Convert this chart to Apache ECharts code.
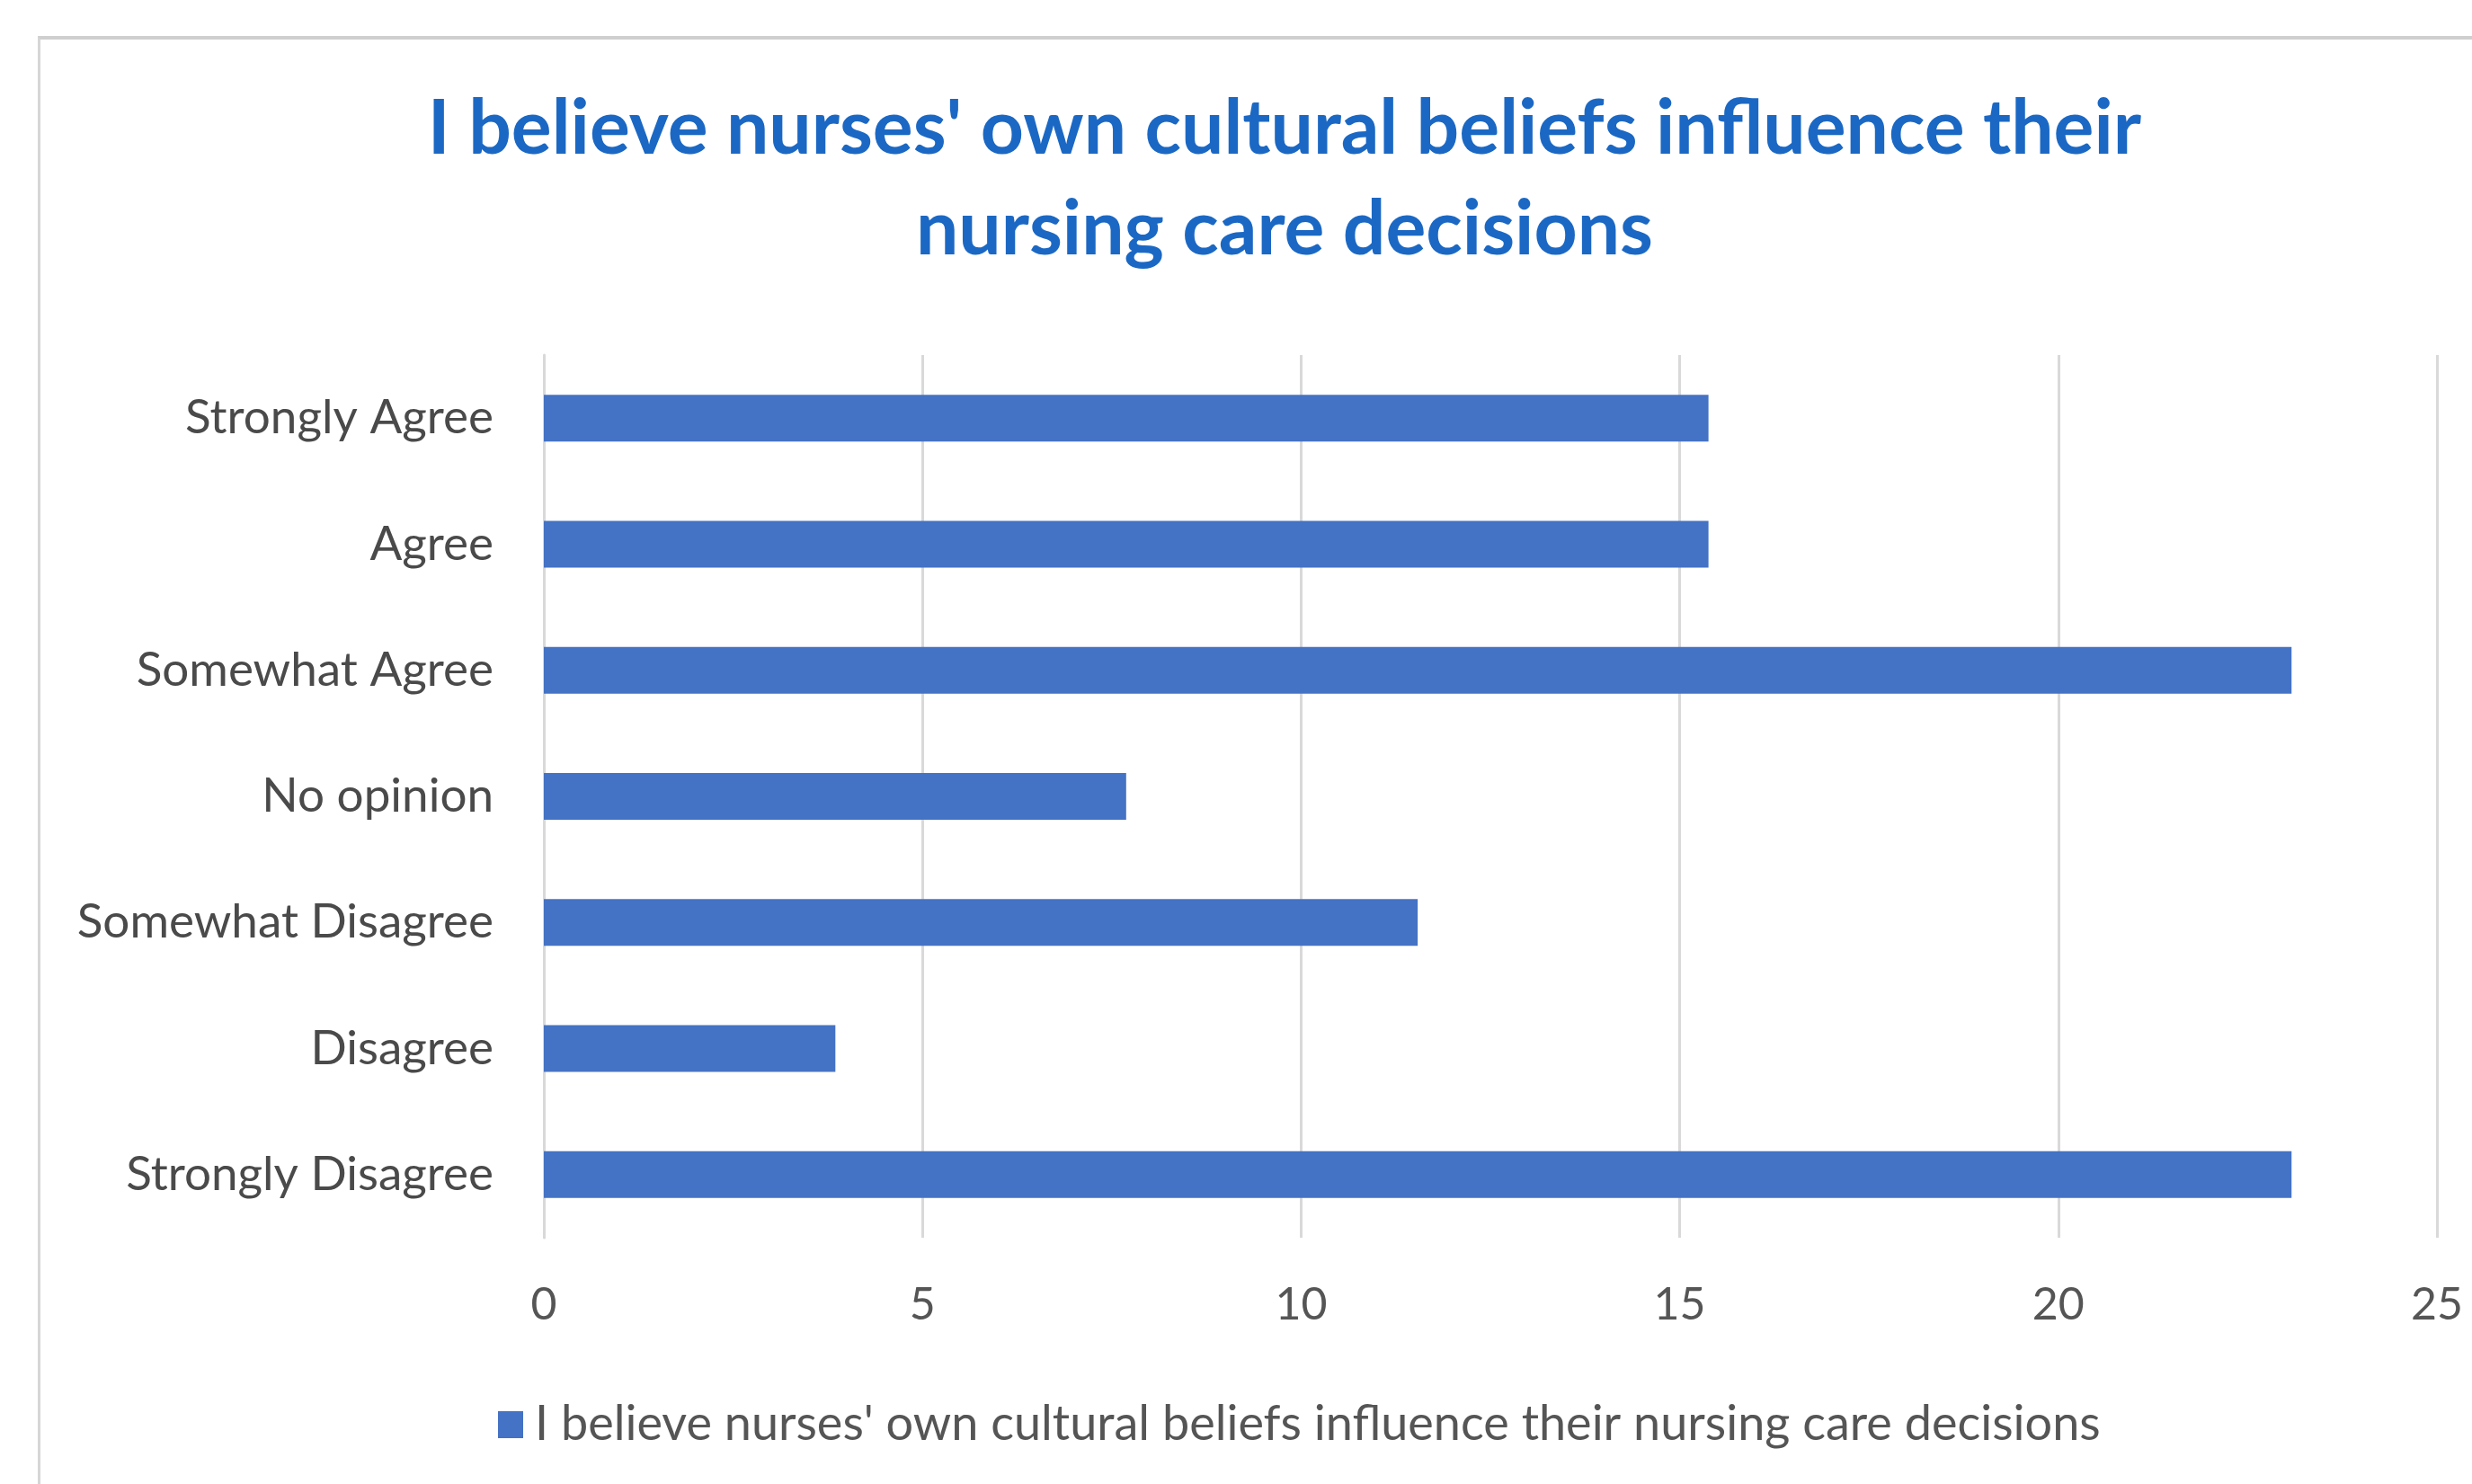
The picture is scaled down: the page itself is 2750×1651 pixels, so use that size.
<!DOCTYPE html>
<html>
<head>
<meta charset="utf-8">
<title>Nurses' cultural beliefs survey</title>
<script src="https://cdn.jsdelivr.net/npm/echarts@6/dist/echarts.min.js"></script>
<style>
  html, body { margin: 0; padding: 0; background: #ffffff; }
  #chart { position: absolute; left: 0; top: 0; width: 2750px; height: 1651px; }
  #frame {
    position: absolute; left: 42px; top: 40px; right: -20px; bottom: -20px;
    border-top: 4px solid #cfcfcf; border-left: 3px solid #d6d6d6;
    pointer-events: none;
  }
</style>
</head>
<body>
<div id="chart"></div>
<div id="frame"></div>
<script>
// Survey answer categories, top to bottom
const categories = [
  'Strongly Agree',
  'Agree',
  'Somewhat Agree',
  'No opinion',
  'Somewhat Disagree',
  'Disagree',
  'Strongly Disagree'
];

// Share of respondents (%) for each answer
const percentValues = [15.38, 15.38, 23.08, 7.69, 11.54, 3.85, 23.08];

// Value axis ticks
const axisMin = 0;
const axisMax = 25;
const axisStep = 5;

const seriesName = "I believe nurses' own cultural beliefs influence their nursing care decisions";
const titleText = "I believe nurses' own cultural beliefs influence their\nnursing care decisions";

const chart = echarts.init(document.getElementById('chart'));

chart.setOption({
  backgroundColor: '#ffffff',
  animation: false,
  title: {
    text: titleText,
    left: 1429,
    textAlign: 'center',
    top: 88,
    padding: 0,
    textStyle: {
      fontFamily: 'Lato',
      fontWeight: 'bold',
      fontSize: 84,
      lineHeight: 112,
      color: '#1b68c4'
    }
  },
  legend: {
    data: [seriesName],
    left: 549,
    top: 1553,
    icon: 'rect',
    itemWidth: 28,
    itemHeight: 30,
    itemGap: 10,
    textStyle: {
      fontFamily: 'Lato',
      fontSize: 54,
      color: '#555555',
      padding: [0, 0, 0, 8]
    }
  },
  grid: {
    left: 605,
    right: 39,
    top: 395,
    bottom: 274,
    containLabel: false
  },
  xAxis: {
    type: 'value',
    min: axisMin,
    max: axisMax,
    interval: axisStep,
    axisLine: { show: false },
    axisTick: { show: false },
    axisLabel: {
      margin: 50,
      fontFamily: 'Lato',
      fontSize: 50,
      color: '#555555'
    },
    splitLine: {
      show: true,
      lineStyle: { color: '#d9d9d9', width: 3 }
    }
  },
  yAxis: {
    type: 'category',
    data: categories,
    inverse: true,
    axisLine: { show: true, lineStyle: { color: '#d9d9d9', width: 3 } },
    axisTick: { show: false },
    axisLabel: {
      margin: 56,
      fontFamily: 'Lato',
      fontSize: 53,
      color: '#4a4a4a'
    }
  },
  series: [{
    name: seriesName,
    type: 'bar',
    data: percentValues,
    barWidth: 52,
    itemStyle: { color: '#4472c4' }
  }]
});
</script>
</body>
</html>
